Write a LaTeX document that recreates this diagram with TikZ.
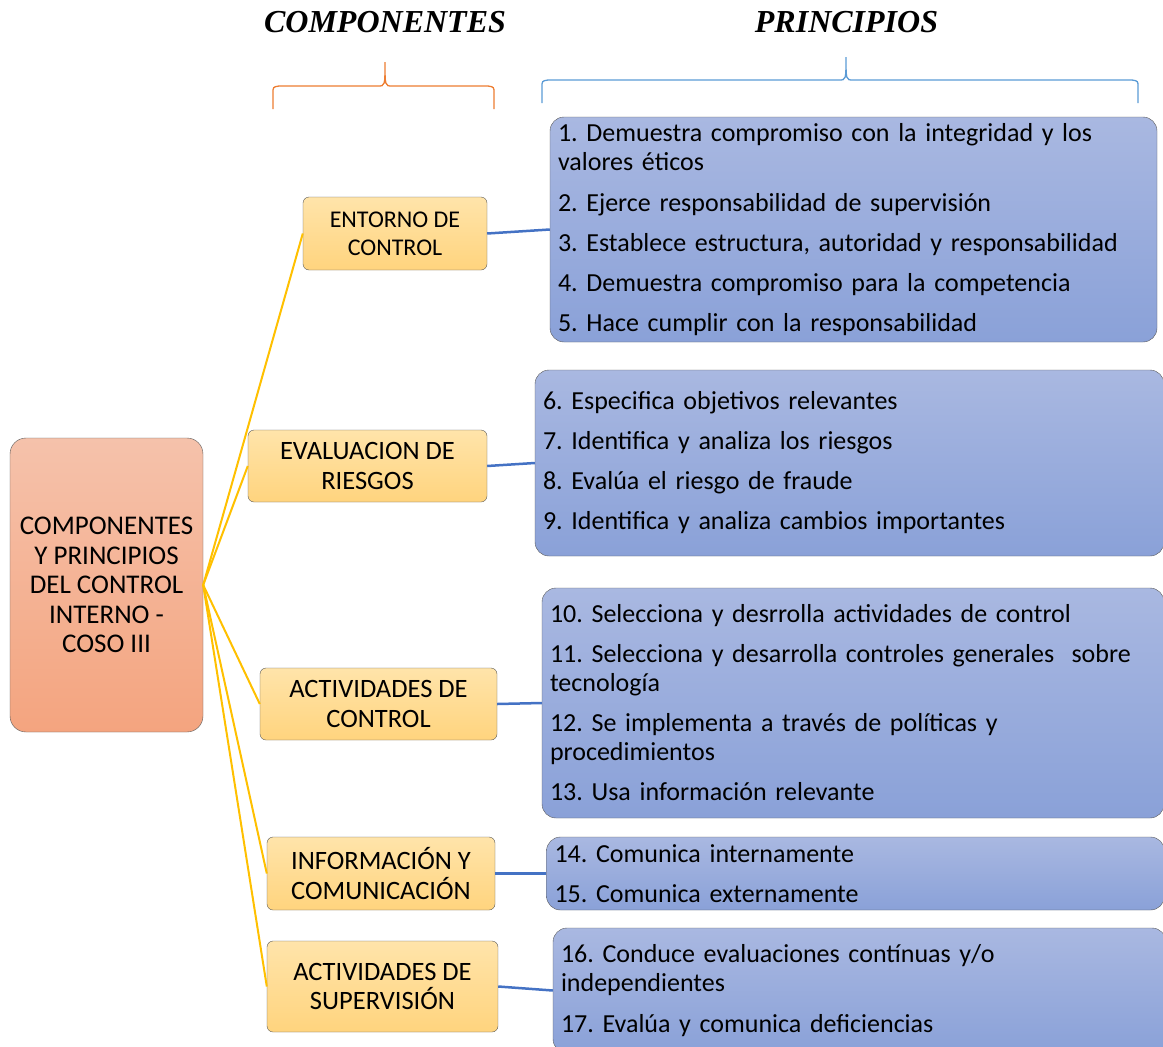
\documentclass[tikz,border=0pt]{standalone}
\usepackage{fontspec}
\setmainfont{Carlito}
\newfontfamily\headfont{Liberation Serif}
\usepackage{tikz}
\definecolor{RootTop}{HTML}{F5C2AB}
\definecolor{RootBot}{HTML}{F4A47F}
\definecolor{CompTop}{HTML}{FFE4AA}
\definecolor{CompBot}{HTML}{FFD47E}
\definecolor{PrinTop}{HTML}{A9B8E1}
\definecolor{PrinBot}{HTML}{8AA1D8}
\definecolor{EdgeGray}{HTML}{5A5A5A}
\definecolor{LinkYellow}{HTML}{FFC000}
\definecolor{LinkBlue}{HTML}{4472C4}
\definecolor{BraceOrange}{HTML}{ED7D31}
\definecolor{BraceBlue}{HTML}{5B9BD5}

\begin{document}
\frenchspacing
\begin{tikzpicture}[
  x=1pt,y=-1pt,
  rootbox/.style={draw=EdgeGray,rounded corners=16pt,top color=RootTop,bottom color=RootBot,align=center,
    font=\fontsize{27}{29.5}\selectfont,inner sep=0pt},
  compbox/.style={draw=EdgeGray,rounded corners=6pt,top color=CompTop,bottom color=CompBot,align=center,
    font=\fontsize{26.5}{29.5}\selectfont,inner sep=0pt},
  prinbox/.style={draw=EdgeGray,rounded corners=14pt,top color=PrinTop,bottom color=PrinBot,align=left,
    font=\fontsize{26}{29}\selectfont,inner xsep=8pt,inner ysep=0pt},
  heading/.style={font=\headfont\bfseries\itshape\fontsize{32}{36}\selectfont},
  yline/.style={LinkYellow,line width=2pt},
  bline/.style={LinkBlue,line width=2.5pt},
  brace/.style={line width=1.3pt}
]
\useasboundingbox (0,0) rectangle (1163,1047);
\clip (0,0) rectangle (1163,1047);

% headings and braces
\node[heading] (hcomp) at (385,22) {COMPONENTES};
\node[heading] (hprin) at (846.5,22) {PRINCIPIOS};
\draw[brace,BraceOrange] (273,109) -- (273,93) .. controls (273,87) .. (279,86) -- (378,86)
  .. controls (385,86) .. (385,62) .. controls (385,86) .. (392,86) -- (488,86)
  .. controls (494,87) .. (494,93) -- (494,109);
\draw[brace,BraceBlue] (542,103) -- (542,87) .. controls (542,81) .. (548,80) -- (839,80)
  .. controls (846,80) .. (846,57) .. controls (846,80) .. (853,80) -- (1132,80)
  .. controls (1138,81) .. (1138,87) -- (1138,103);

% root
\node[rootbox,minimum width=193pt,minimum height=294pt] (root) at (106.5,585)
  {COMPONENTES\\Y PRINCIPIOS\\DEL CONTROL\\INTERNO -\\COSO III};

% components
\node[compbox,minimum width=184pt,minimum height=73pt,font=\fontsize{24}{28}\selectfont] (ent) at (395,233.5) {ENTORNO DE\\CONTROL};
\node[compbox,minimum width=239pt,minimum height=72pt] (eval) at (367.5,466) {EVALUACION DE\\RIESGOS};
\node[compbox,minimum width=237pt,minimum height=72pt] (act) at (378.5,704) {ACTIVIDADES DE\\CONTROL};
\node[compbox,minimum width=228pt,minimum height=73pt] (info) at (381,873.5) {INFORMACIÓN Y\\COMUNICACIÓN};
\node[compbox,minimum width=231pt,minimum height=91pt] (sup) at (382.5,986.5) {ACTIVIDADES DE\\SUPERVISIÓN};

% principles
\node[prinbox,text width=591pt,minimum height=225pt] (p1) at (853.5,229.5)
  {1. Demuestra compromiso con la integridad y los\\valores éticos\\[12pt]
   2. Ejerce responsabilidad de supervisión\\[11pt]
   3. Establece estructura, autoridad y responsabilidad\\[11pt]
   4. Demuestra compromiso para la competencia\\[11pt]
   5. Hace cumplir con la responsabilidad};
\node[prinbox,text width=613pt,minimum height=186pt] (p2) at (849.5,463)
  {6. Especifica objetivos relevantes\\[11pt]
   7. Identifica y analiza los riesgos\\[11pt]
   8. Evalúa el riesgo de fraude\\[11pt]
   9. Identifica y analiza cambios importantes};
\node[prinbox,text width=606pt,minimum height=230pt] (p3) at (853,703)
  {10. Selecciona y desrrolla actividades de control\\[11pt]
   11. Selecciona y desarrolla controles generales\ \ sobre\\tecnología\\[11pt]
   12. Se implementa a través de políticas y\\procedimientos\\[11pt]
   13. Usa información relevante};
\node[prinbox,text width=602pt,minimum height=73pt] (p4) at (855.5,873.5)
  {14. Comunica internamente\\[11pt]
   15. Comunica externamente};
\node[prinbox,text width=597pt,minimum height=125pt] (p5) at (859.5,990.5)
  {16. Conduce evaluaciones contínuas y/o\\independientes\\[12pt]
   17. Evalúa y comunica deficiencias};

% links
\foreach \c in {ent,eval,act,info,sup}
  \draw[yline] (root.east) -- (\c.west);
\draw[bline] (ent.east) -- (p1.west);
\draw[bline] (eval.east) -- (p2.west);
\draw[bline] (act.east) -- (p3.west);
\draw[bline] (info.east) -- (p4.west);
\draw[bline] (sup.east) -- (p5.west);
\end{tikzpicture}
\end{document}
